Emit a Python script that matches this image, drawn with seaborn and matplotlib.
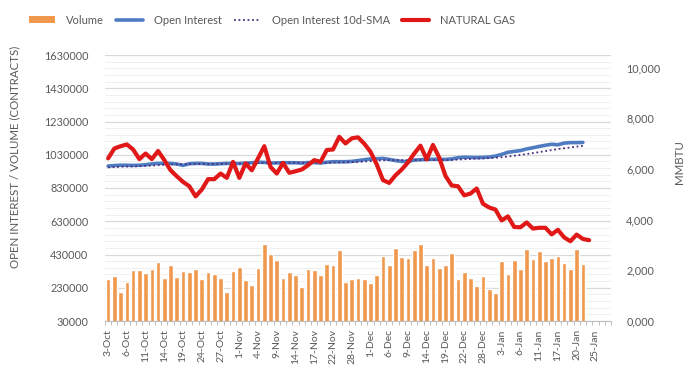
import numpy as np
import pandas as pd
import seaborn as sns
import matplotlib.pyplot as plt
from matplotlib.lines import Line2D
from matplotlib.patches import Patch
from matplotlib.ticker import FixedLocator, FuncFormatter

# Trading days (US holidays excluded), axis runs a few days past the data
holidays = ['2022-11-24', '2022-12-26', '2023-01-02', '2023-01-16']
dates = pd.bdate_range('2022-10-03', '2023-01-27', freq='C', holidays=holidays)
date_labels = [f"{d.day}-{d.strftime('%b')}" for d in dates]

# Volume (contracts), 3-Oct .. 23-Jan
volume = [281000, 301000, 204000, 265000, 335000, 335000, 317000, 341000, 383000, 287000,
          367000, 295000, 329000, 323000, 341000, 281000, 323000, 311000, 287000, 204000,
          329000, 353000, 275000, 247000, 347000, 491000, 433000, 395000, 287000, 323000,
          307000, 235000, 343000, 335000, 307000, 373000, 367000, 457000, 265000, 283000,
          289000, 283000, 259000, 307000, 421000, 367000, 469000, 415000, 409000, 457000,
          493000, 367000, 409000, 347000, 365000, 437000, 281000, 323000, 287000, 239000,
          301000, 221000, 197000, 389000, 313000, 395000, 341000, 461000, 401000, 449000,
          389000, 409000, 419000, 377000, 341000, 461000, 371000]

# Open interest (contracts)
open_interest = [962000, 965000, 967000, 967000, 966000, 967000, 970000, 975000, 978000, 978000,
                 978000, 974000, 966000, 976000, 978000, 978000, 974000, 974000, 976000, 978000,
                 978000, 977000, 980000, 982000, 985000, 984000, 980000, 981000, 982000, 982000,
                 982000, 980000, 983000, 983000, 980000, 985000, 988000, 988000, 988000, 990000,
                 995000, 1000000, 1005000, 1006000, 1008000, 1002000, 995000, 990000, 989000, 998000,
                 1000000, 1002000, 1003000, 1002000, 1002000, 1005000, 1012000, 1015000, 1014000, 1013000,
                 1014000, 1016000, 1022000, 1032000, 1045000, 1050000, 1055000, 1065000, 1072000, 1080000,
                 1087000, 1093000, 1090000, 1100000, 1103000, 1103000, 1104000]

# Open interest 10-day SMA
oi_sma = [954000, 956000, 958000, 959000, 960000, 961000, 963000, 965000, 967000, 970000,
          972000, 973000, 973000, 974000, 975000, 975000, 975000, 975000, 975000, 976000,
          977000, 977000, 978000, 979000, 980000, 981000, 981000, 981000, 982000, 982000,
          982000, 982000, 982000, 982000, 982000, 983000, 983000, 984000, 985000, 986000,
          987000, 989000, 992000, 995000, 997000, 998000, 998000, 998000, 998000, 998000,
          998000, 998000, 998000, 998000, 998000, 999000, 1001000, 1003000, 1005000, 1007000,
          1008000, 1010000, 1012000, 1015000, 1019000, 1024000, 1029000, 1034000, 1040000, 1046000,
          1052000, 1058000, 1064000, 1069000, 1074000, 1079000, 1083000]

# Natural gas price (MMBTU), 3-Oct .. 24-Jan
gas = [6420, 6810, 6900, 6970, 6770, 6390, 6610, 6390, 6710, 6350,
       5950, 5710, 5490, 5320, 4920, 5190, 5600, 5600, 5820, 5650,
       6280, 5650, 6220, 5950, 6420, 6900, 6080, 5820, 6240, 5850,
       5910, 5980, 6150, 6350, 6280, 6750, 6770, 7270, 7010, 7210,
       7250, 7000, 6680, 6180, 5560, 5450, 5750, 5980, 6260, 6610,
       6920, 6380, 6950, 6450, 5730, 5350, 5320, 4960, 5030, 5230,
       4630, 4480, 4400, 3970, 4130, 3710, 3700, 3890, 3650, 3680,
       3680, 3420, 3600, 3300, 3150, 3410, 3240, 3190]

sns.set_theme(style='white')
plt.rcParams['font.family'] = ['Lato', 'DejaVu Sans']
text_color = '#595959'

fig = plt.figure(figsize=(6.94, 3.68), dpi=100)
ax = fig.add_axes([105 / 694, 1 - 321 / 368, 506 / 694, 266 / 368])

bar_color = '#F0994E'
oi_color = '#4F7CC0'
sma_color = '#4B2E83'
gas_color = '#E01818'

pos = np.arange(len(volume))
sns.barplot(x=pos, y=volume, native_scale=True, color=bar_color, width=0.75,
            saturation=1, ax=ax, zorder=1)
sns.lineplot(x=pos, y=open_interest, color=oi_color, lw=2.6, ax=ax, zorder=3)
sns.lineplot(x=pos, y=oi_sma, color=sma_color, lw=1.3, linestyle=(0, (1, 1.5)), ax=ax, zorder=4)

ax.set_xlim(-0.5, len(dates) - 0.5)
ax.set_ylim(30000, 1630000)
ax.set_yticks(np.arange(30000, 1630001, 200000))
ax.yaxis.set_minor_locator(FixedLocator(np.arange(30000, 1630001, 40000)))
ax.yaxis.set_major_formatter(FuncFormatter(lambda v, p: f'{int(v)}'))
ax.set_axisbelow(True)
ax.grid(which='major', axis='y', color='#D9D9D9', lw=0.9)
ax.grid(which='minor', axis='y', color='#EFEFEF', lw=0.7)
ax.grid(axis='x', visible=False)

ax.set_xticks(np.arange(0, len(dates), 3))
ax.set_xticklabels(date_labels[::3], rotation=90, fontsize=7.5, color=text_color)
ax.xaxis.set_minor_locator(FixedLocator(np.arange(-0.5, len(dates), 1)))
ax.tick_params(axis='x', which='major', length=0, pad=6)
ax.tick_params(axis='x', which='minor', length=3, color='#BFBFBF', width=0.7, bottom=True)
ax.tick_params(axis='y', which='both', length=0, pad=12, labelsize=7.8, labelcolor=text_color)
ax.set_xlabel('')
ax.set_ylabel('')

for s in ['top', 'left', 'right']:
    ax.spines[s].set_visible(False)
ax.spines['bottom'].set_color('#BFBFBF')
ax.spines['bottom'].set_linewidth(0.8)

# Natural gas on the secondary axis
ax2 = ax.twinx()
sns.lineplot(x=np.arange(len(gas)), y=gas, color=gas_color, lw=3.0, ax=ax2,
             solid_capstyle='round')
ax2.set_ylim(0, 10500)
ax2.set_yticks(np.arange(0, 10001, 2000))
ax2.yaxis.set_major_formatter(FuncFormatter(lambda v, p: '0,000' if v == 0 else f'{int(v):,}'))
ax2.tick_params(axis='y', length=0, pad=11, labelsize=7.8, labelcolor=text_color)
ax2.grid(False)
ax2.set_ylabel('')
for s in ['top', 'left', 'right', 'bottom']:
    ax2.spines[s].set_visible(False)
ax2.set_xlim(-0.5, len(dates) - 0.5)

fig.text(15 / 694, 1 - 157 / 368, 'OPEN INTEREST / VOLUME (CONTRACTS)', rotation=90,
         ha='center', va='center', fontsize=8.3, color=text_color)
fig.text(680 / 694, 1 - 162 / 368, 'MMBTU', rotation=90,
         ha='center', va='center', fontsize=8.3, color=text_color)

handles = [
    Patch(facecolor=bar_color, edgecolor='none'),
    Line2D([], [], color=oi_color, lw=2.6),
    Line2D([], [], color=sma_color, lw=1.3, linestyle=(0, (1, 1.5))),
    Line2D([], [], color=gas_color, lw=3.0),
]
labels = ['Volume', 'Open Interest', 'Open Interest 10d-SMA', 'NATURAL GAS']
leg = fig.legend(handles, labels, loc='center', bbox_to_anchor=(272 / 694, 1 - 20 / 368),
                 ncol=4, frameon=False, fontsize=8, handlelength=2.4, handleheight=0.6,
                 columnspacing=1.1, handletextpad=1.0, borderpad=0, borderaxespad=0)
for t in leg.get_texts():
    t.set_color(text_color)

fig.savefig('out.png', dpi=100)
